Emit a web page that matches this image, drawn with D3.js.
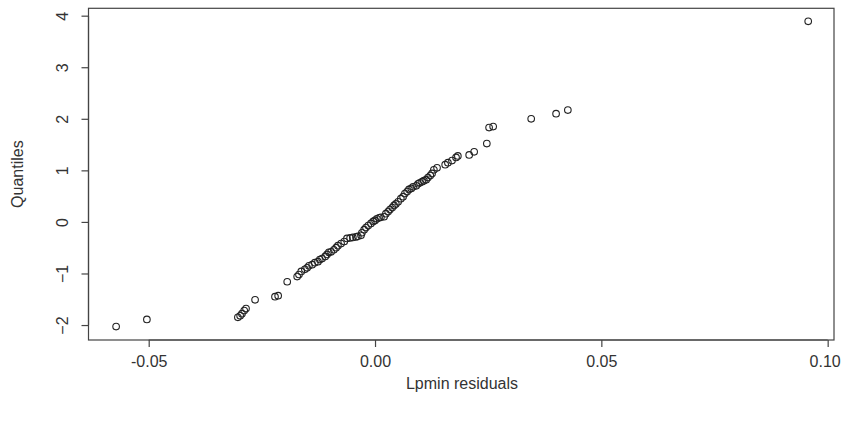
<!DOCTYPE html>
<html><head><meta charset="utf-8">
<script src="https://cdn.jsdelivr.net/npm/d3@7"></script>
<style>body{margin:0;background:#fff;} svg{display:block;}</style>
</head><body>
<svg id="chart" width="841" height="423"></svg>
<script>
const residuals = [-0.0572,-0.0504,-0.0303,-0.0298,-0.0294,-0.0289,-0.0285,-0.0265,-0.0221,-0.0214,
 -0.0194,-0.0172,-0.0168,-0.0163,-0.0155,-0.0150,-0.0146,-0.0139,-0.0133,-0.0126,
 -0.0122,-0.0117,-0.0110,-0.0106,-0.0102,-0.0097,-0.0091,-0.0086,-0.0082,-0.0075,
 -0.0068,-0.0062,-0.0055,-0.0049,-0.0042,-0.0038,-0.0031,-0.0029,-0.0024,-0.0020,
 -0.0015,-0.0009,-0.0004,0.0000,0.0004,0.0009,0.0013,0.0020,0.0024,0.0029,
 0.0033,0.0038,0.0042,0.0046,0.0051,0.0057,0.0062,0.0066,0.0071,0.0075,
 0.0080,0.0084,0.0091,0.0095,0.0099,0.0104,0.0108,0.0113,0.0117,0.0122,
 0.0126,0.0130,0.0137,0.0155,0.0161,0.0170,0.0179,0.0183,0.0208,0.0219,
 0.0247,0.0252,0.0261,0.0345,0.0400,0.0426,0.0957];
const quantiles = [-2.03,-1.89,-1.85,-1.82,-1.78,-1.72,-1.68,-1.51,-1.45,-1.43,
 -1.16,-1.06,-1.02,-0.96,-0.92,-0.89,-0.85,-0.83,-0.79,-0.77,
 -0.73,-0.71,-0.67,-0.63,-0.59,-0.58,-0.54,-0.50,-0.46,-0.42,
 -0.38,-0.32,-0.31,-0.30,-0.29,-0.28,-0.26,-0.21,-0.15,-0.11,
 -0.07,-0.03,0.01,0.03,0.06,0.08,0.09,0.10,0.16,0.20,
 0.24,0.28,0.32,0.35,0.39,0.45,0.49,0.55,0.59,0.63,
 0.65,0.68,0.70,0.74,0.76,0.78,0.80,0.82,0.86,0.90,
 0.94,1.01,1.05,1.11,1.15,1.19,1.25,1.28,1.30,1.36,
 1.52,1.83,1.85,2.00,2.10,2.17,3.89];
const xTicks = [-0.05, 0.00, 0.05, 0.10];
const xTickLabels = ["-0.05", "0.00", "0.05", "0.10"];
const yTicks = [-2, -1, 0, 1, 2, 3, 4];
const xLabel = "Lpmin residuals";
const yLabel = "Quantiles";

const svg = d3.select("#chart");
const L = 88.5, R = 834, T = 8.3, B = 340;
const x = d3.scaleLinear().domain([-0.0633, 0.1014]).range([L, R]);
const y = d3.scaleLinear().domain([-2.29, 4.143]).range([B, T]);
const font = "'Liberation Sans', Arial, sans-serif";
const col = "#333";
const fs = 16;

// box
svg.append("rect").attr("x", L).attr("y", T).attr("width", R - L).attr("height", B - T)
  .attr("fill", "none").attr("stroke", "#444").attr("stroke-width", 1.2);

// x axis
const xa = svg.append("g").attr("transform", `translate(0,${B})`)
  .call(d3.axisBottom(x).tickValues(xTicks).tickFormat((d, i) => xTickLabels[i]).tickSize(7).tickPadding(9));
xa.select(".domain").attr("d", `M${x(xTicks[0])},0H${x(xTicks[xTicks.length-1])}`).attr("stroke", "#444").attr("stroke-width", 1.2);
xa.selectAll(".tick line").attr("stroke", "#444").attr("stroke-width", 1.2);
xa.selectAll("text").attr("font-family", font).attr("font-size", fs).attr("fill", col)
  .attr("x", (d, i) => i === xTicks.length - 1 ? -3 : 0);

// y axis
const ya = svg.append("g").attr("transform", `translate(${L},0)`)
  .call(d3.axisLeft(y).tickValues(yTicks).tickFormat(d3.format("d")).tickSize(7).tickPadding(0));
ya.select(".domain").attr("d", `M0,${y(yTicks[0])}V${y(yTicks[yTicks.length-1])}`).attr("stroke", "#444").attr("stroke-width", 1.2);
ya.selectAll(".tick line").attr("stroke", "#444").attr("stroke-width", 1.2);
ya.selectAll("text").attr("font-family", font).attr("font-size", fs).attr("fill", col)
  .attr("text-anchor", "middle").attr("x", null)
  .attr("transform", "translate(-26,0) rotate(-90)").attr("dy", "0.35em");

// labels
svg.append("text").attr("x", 462).attr("y", 389).attr("text-anchor", "middle")
  .attr("font-family", font).attr("font-size", fs).attr("fill", col).text(xLabel);
svg.append("text").attr("transform", `translate(23,${(T + B) / 2}) rotate(-90)`).attr("text-anchor", "middle")
  .attr("font-family", font).attr("font-size", fs).attr("fill", col).text(yLabel);

// points
svg.append("g").selectAll("circle").data(residuals).join("circle")
  .attr("cx", d => x(d)).attr("cy", (d, i) => y(quantiles[i])).attr("r", 3.3)
  .attr("fill", "none").attr("stroke", "#222").attr("stroke-width", 1.1);
</script>
</body></html>
